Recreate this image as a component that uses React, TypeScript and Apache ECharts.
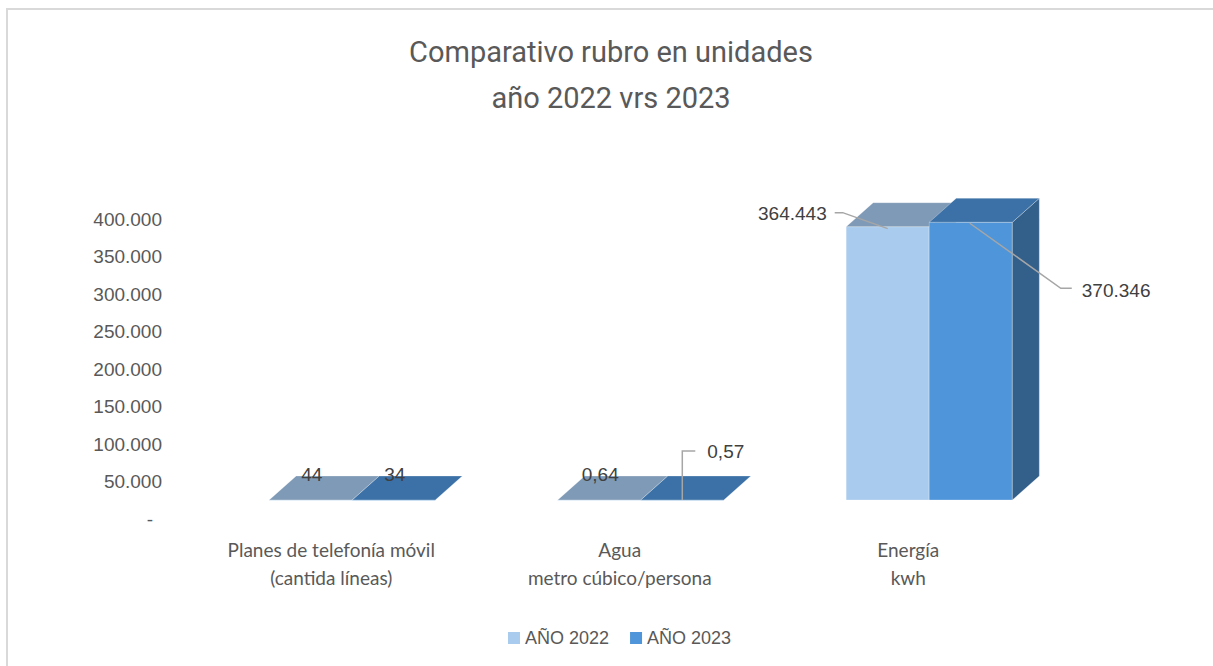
import React, { useEffect, useRef } from 'react';
import * as echarts from 'echarts';

const categories = [
  'Planes de telefonía móvil\n(cantida líneas)',
  'Agua\nmetro cúbico/persona',
  'Energía\nkwh',
];
const seriesNames = ['AÑO 2022', 'AÑO 2023'];
const values2022 = [44, 0.64, 364443];
const values2023 = [34, 0.57, 370346];
const yMin = 0;
const yMax = 400000;
const yInterval = 50000;
const titleLines = ['Comparativo rubro en unidades', 'año 2022 vrs 2023'];

const fmt = (v: number) => {
  if (v === 0) return '-';
  if (Number.isInteger(v)) return String(v).replace(/\B(?=(\d{3})+(?!\d))/g, '.');
  return v.toFixed(2).replace('.', ',');
};

const faceColors = [
  { front: '#A9CBEE', top: '#7F9AB6', side: '#6F8EAD' },
  { front: '#4F95D9', top: '#3B71A6', side: '#335F8B' },
];

// label layout kinds per series / category
const labelKinds = [
  ['above', 'above', 'leftLeader'],
  ['above', 'upLeader', 'rightLeader'],
];

const LABEL_FONT = { fontSize: 19, fontFamily: 'Liberation Sans', fill: '#404040' };
const LEADER = { stroke: '#A6A6A6', lineWidth: 1.5, fill: 'none' };

function makeRenderItem(s: number) {
  return (params: any, api: any) => {
    const idx = api.value(0);
    const val = api.value(1);
    const base = api.coord([idx, 0]);
    const topP = api.coord([idx, val]);
    const band = api.size([1, 0])[0];
    const w = band * 0.288;
    const ox = 21;
    const oy = -19;
    const dx = 27;
    const dy = -24;
    const x0 = base[0] + ox + (s === 0 ? -w : 0);
    const x1 = x0 + w;
    const yb = base[1] + oy;
    const yt = topP[1] + oy;
    const c = faceColors[s];
    const edge = { stroke: 'rgba(255,255,255,0.35)', lineWidth: 0.8 };
    const children: any[] = [
      {
        type: 'rect',
        shape: { x: x0, y: yt, width: w, height: Math.max(yb - yt, 0.5) },
        style: { fill: c.front, ...edge },
      },
      {
        type: 'polygon',
        shape: { points: [[x1, yt], [x1, yb], [x1 + dx, yb + dy], [x1 + dx, yt + dy]] },
        style: { fill: c.side, ...edge },
      },
      {
        type: 'polygon',
        shape: { points: [[x0, yt], [x1, yt], [x1 + dx, yt + dy], [x0 + dx, yt + dy]] },
        style: { fill: c.top, ...edge },
      },
    ];
    const fx = (x0 + x1) / 2;
    const kind = labelKinds[s][params.dataIndex];
    const text = fmt(val);
    if (kind === 'above') {
      children.push({
        type: 'text', x: fx + 1, y: yt - 25, z2: 10,
        style: { text, ...LABEL_FONT, align: 'center', verticalAlign: 'middle' },
      });
    } else if (kind === 'leftLeader') {
      children.push({
        type: 'polyline', z2: 9,
        shape: { points: [[fx, yt + 2], [fx - 45, yt - 14], [fx - 53, yt - 14]] },
        style: { ...LEADER },
      });
      children.push({
        type: 'text', x: fx - 61, y: yt - 13, z2: 10,
        style: { text, ...LABEL_FONT, align: 'right', verticalAlign: 'middle' },
      });
    } else if (kind === 'upLeader') {
      children.push({
        type: 'polyline', z2: 9,
        shape: { points: [[fx, yt], [fx, yt - 49], [fx + 13, yt - 49]] },
        style: { ...LEADER },
      });
      children.push({
        type: 'text', x: fx + 25, y: yt - 48, z2: 10,
        style: { text, ...LABEL_FONT, align: 'left', verticalAlign: 'middle' },
      });
    } else if (kind === 'rightLeader') {
      children.push({
        type: 'polyline', z2: 9,
        shape: { points: [[fx - 1, yt + 1], [fx + 90, yt + 66], [fx + 101, yt + 66]] },
        style: { ...LEADER },
      });
      children.push({
        type: 'text', x: fx + 111, y: yt + 68, z2: 10,
        style: { text, ...LABEL_FONT, align: 'left', verticalAlign: 'middle' },
      });
    }
    return { type: 'group', children };
  };
}

export default function App() {
  const ref = useRef<HTMLDivElement>(null);
  useEffect(() => {
    if (!ref.current) return;
    const chart = echarts.init(ref.current, null, { renderer: 'svg' });
    const seriesValues = [values2022, values2023];
    chart.setOption({
      animation: false,
      backgroundColor: '#ffffff',
      graphic: [
        {
          type: 'line', z: -10,
          shape: { x1: 7, y1: 8, x2: 7, y2: 700 },
          style: { stroke: '#D9D9D9', lineWidth: 2 },
        },
        {
          type: 'line', z: -10,
          shape: { x1: 6, y1: 9, x2: 1300, y2: 9 },
          style: { stroke: '#D9D9D9', lineWidth: 2 },
        },
        {
          type: 'text', x: 611, y: 52,
          style: { text: titleLines[0], fontSize: 29, fontFamily: 'Roboto', fill: '#595959', align: 'center', verticalAlign: 'middle' },
        },
        {
          type: 'text', x: 611, y: 98,
          style: { text: titleLines[1], fontSize: 29, fontFamily: 'Roboto', fill: '#595959', align: 'center', verticalAlign: 'middle' },
        },
      ],
      legend: {
        data: seriesNames,
        left: 503,
        top: 624,
        icon: 'rect',
        itemWidth: 12,
        itemHeight: 12,
        itemGap: 21,
        textStyle: { fontSize: 18, color: '#595959', fontFamily: 'Liberation Sans' },
      },
      grid: { left: 187, right: 160.5, top: 219, bottom: 147, containLabel: false },
      xAxis: {
        type: 'category',
        data: categories,
        axisLine: { show: false },
        axisTick: { show: false },
        splitLine: { show: false },
        axisLabel: {
          interval: 0, margin: 16, fontSize: 19, lineHeight: 28,
          color: '#595959', fontFamily: 'Lato',
        },
      },
      yAxis: {
        type: 'value',
        min: yMin,
        max: yMax,
        interval: yInterval,
        axisLine: { show: false },
        axisTick: { show: false },
        splitLine: { show: false },
        axisLabel: {
          margin: 25, fontSize: 19, color: '#595959', fontFamily: 'Liberation Sans',
          formatter: (v: number) => (v === 0 ? '{d|-}' : fmt(v)),
          rich: { d: { padding: [0, 9, 0, 0], fontSize: 19, color: '#595959', fontFamily: 'Liberation Sans' } },
        },
      },
      series: seriesNames.map((name, s) => ({
        type: 'custom',
        name,
        itemStyle: { color: faceColors[s].front },
        encode: { x: 0, y: 1 },
        data: seriesValues[s].map((v, i) => [i, v]),
        renderItem: makeRenderItem(s),
      })),
    });
    return () => chart.dispose();
  }, []);
  return <div ref={ref} style={{ position: 'absolute', left: 0, top: 0, width: 1213, height: 666 }} />;
}
